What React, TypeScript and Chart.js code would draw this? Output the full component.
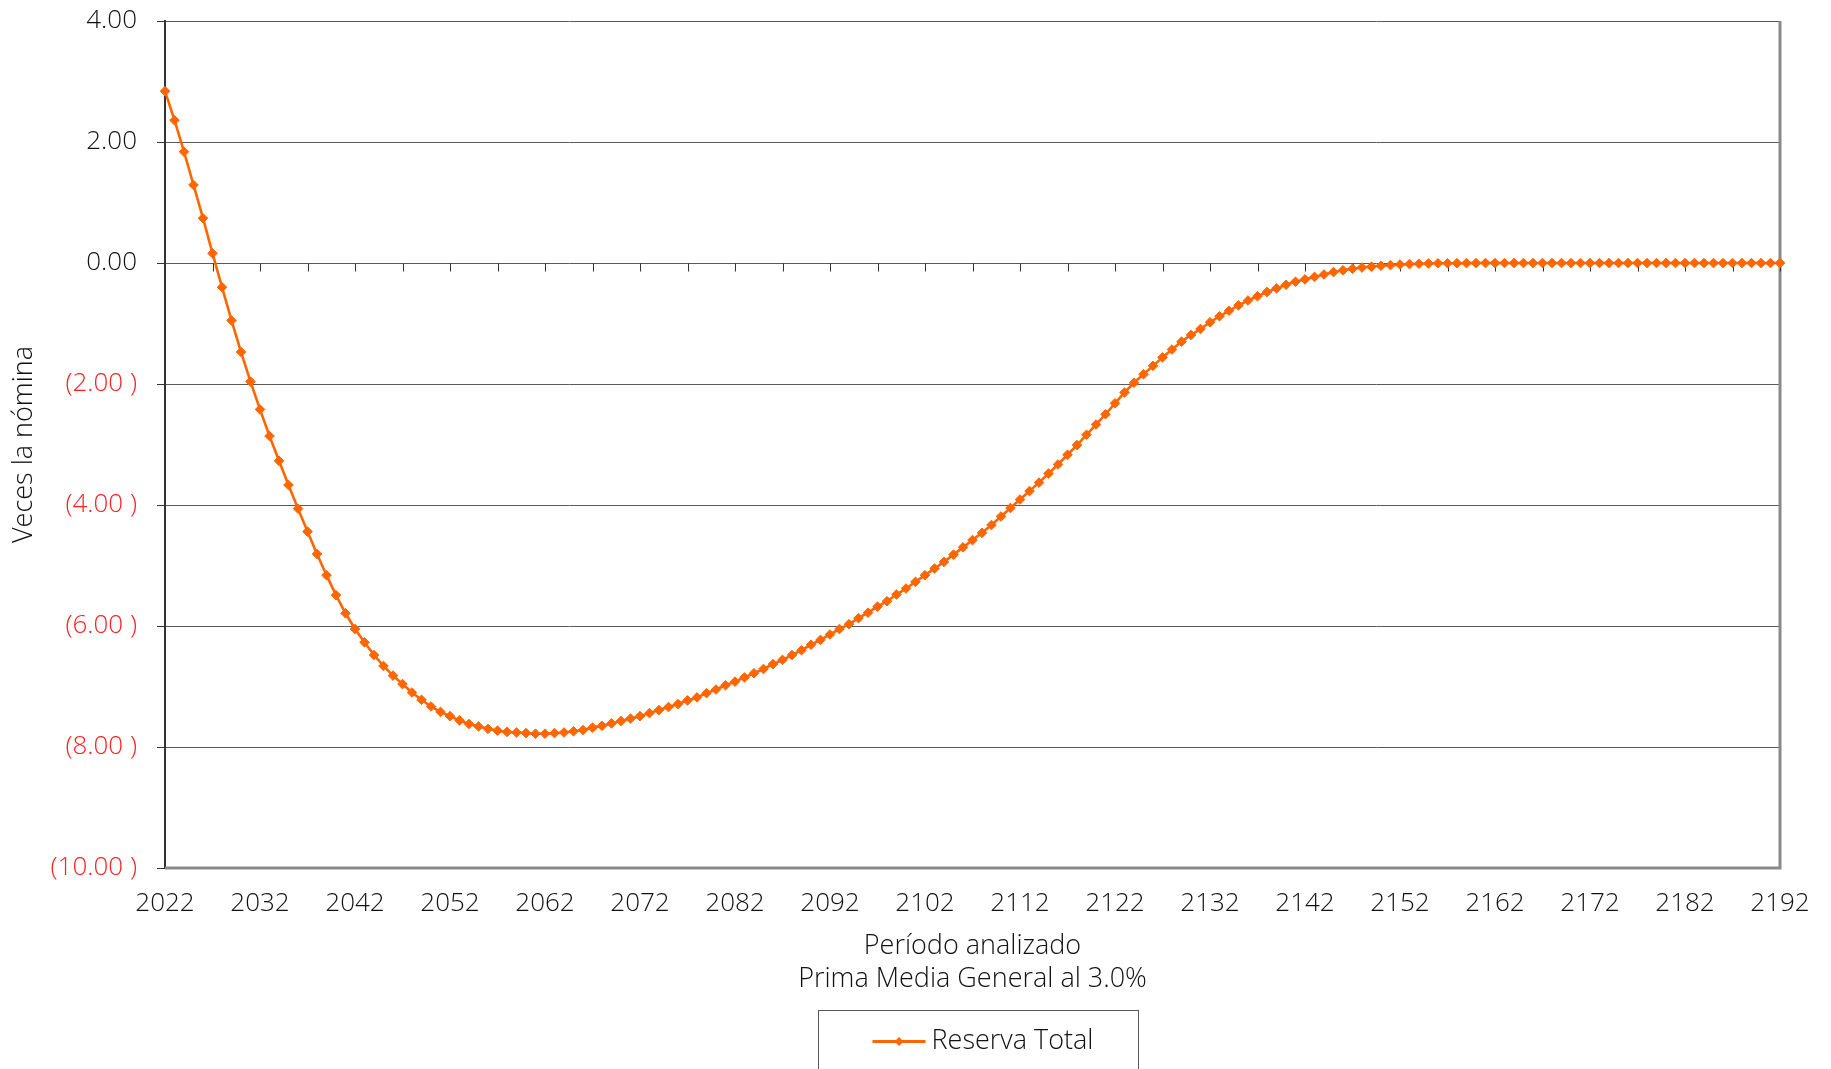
import React, { useEffect, useRef } from 'react';
import { Chart, registerables } from 'chart.js';

Chart.register(...registerables);

const YEARS = [
  2022, 2023, 2024, 2025, 2026, 2027, 2028, 2029, 2030, 2031,
  2032, 2033, 2034, 2035, 2036, 2037, 2038, 2039, 2040, 2041,
  2042, 2043, 2044, 2045, 2046, 2047, 2048, 2049, 2050, 2051,
  2052, 2053, 2054, 2055, 2056, 2057, 2058, 2059, 2060, 2061,
  2062, 2063, 2064, 2065, 2066, 2067, 2068, 2069, 2070, 2071,
  2072, 2073, 2074, 2075, 2076, 2077, 2078, 2079, 2080, 2081,
  2082, 2083, 2084, 2085, 2086, 2087, 2088, 2089, 2090, 2091,
  2092, 2093, 2094, 2095, 2096, 2097, 2098, 2099, 2100, 2101,
  2102, 2103, 2104, 2105, 2106, 2107, 2108, 2109, 2110, 2111,
  2112, 2113, 2114, 2115, 2116, 2117, 2118, 2119, 2120, 2121,
  2122, 2123, 2124, 2125, 2126, 2127, 2128, 2129, 2130, 2131,
  2132, 2133, 2134, 2135, 2136, 2137, 2138, 2139, 2140, 2141,
  2142, 2143, 2144, 2145, 2146, 2147, 2148, 2149, 2150, 2151,
  2152, 2153, 2154, 2155, 2156, 2157, 2158, 2159, 2160, 2161,
  2162, 2163, 2164, 2165, 2166, 2167, 2168, 2169, 2170, 2171,
  2172, 2173, 2174, 2175, 2176, 2177, 2178, 2179, 2180, 2181,
  2182, 2183, 2184, 2185, 2186, 2187, 2188, 2189, 2190, 2191,
  2192,
];

const RESERVA_TOTAL = [
  2.84, 2.36, 1.84, 1.29, 0.74, 0.16, -0.40, -0.95, -1.47, -1.96,
  -2.42, -2.86, -3.27, -3.67, -4.06, -4.44, -4.81, -5.16, -5.49, -5.79,
  -6.05, -6.27, -6.48, -6.66, -6.82, -6.96, -7.10, -7.22, -7.33, -7.42,
  -7.49, -7.56, -7.62, -7.66, -7.70, -7.73, -7.75, -7.76, -7.77, -7.78,
  -7.78, -7.77, -7.76, -7.74, -7.72, -7.68, -7.65, -7.61, -7.57, -7.53,
  -7.49, -7.44, -7.39, -7.34, -7.29, -7.23, -7.18, -7.11, -7.05, -6.98,
  -6.92, -6.85, -6.78, -6.71, -6.63, -6.56, -6.48, -6.40, -6.31, -6.23,
  -6.14, -6.05, -5.97, -5.87, -5.78, -5.68, -5.59, -5.48, -5.38, -5.27,
  -5.16, -5.05, -4.94, -4.82, -4.70, -4.58, -4.46, -4.33, -4.19, -4.05,
  -3.91, -3.77, -3.63, -3.48, -3.33, -3.17, -3.01, -2.84, -2.67, -2.50,
  -2.32, -2.14, -1.98, -1.84, -1.70, -1.56, -1.43, -1.30, -1.19, -1.09,
  -0.98, -0.88, -0.79, -0.70, -0.62, -0.55, -0.48, -0.42, -0.36, -0.31,
  -0.27, -0.23, -0.19, -0.15, -0.12, -0.095, -0.075, -0.06, -0.045, -0.035,
  -0.025, -0.018, -0.012, -0.008, -0.005, -0.004, -0.003, -0.002, -0.002, -0.001,
  -0.001, -0.001, -0.001, -0.001, -0.001, -0.001, -0.001, -0.001, -0.001, -0.001,
  -0.001, -0.001, -0.001, -0.001, -0.001, -0.001, -0.001, -0.001, -0.001, -0.001,
  -0.001, -0.001, -0.001, -0.001, -0.001, -0.001, -0.001, -0.001, -0.001, -0.001,
  -0.001,
];

const X_TICK_YEARS = [
  2022, 2032, 2042, 2052, 2062, 2072, 2082, 2092, 2102,
  2112, 2122, 2132, 2142, 2152, 2162, 2172, 2182, 2192,
];
const Y_TICKS = [-10, -8, -6, -4, -2, 0, 2, 4];

const SERIES_LABEL = 'Reserva Total';
const Y_TITLE = 'Veces la nómina';
const X_TITLE = ['Período analizado', 'Prima Media General al 3.0%'];

const FONT = "'Open Sans', 'Liberation Sans', sans-serif";
const ORANGE = '#FF6600';
const TEXT = '#111111';
const NEG_TEXT = '#ff2020';

export default function App() {
  const ref = useRef<HTMLCanvasElement>(null);

  useEffect(() => {
    if (!ref.current) return;

    const framePlugin = {
      id: 'excelFrame',
      beforeDatasetsDraw(chart: any) {
        const { ctx, chartArea, scales } = chart;
        const { left, right, top, bottom } = chartArea;
        ctx.save();
        ctx.strokeStyle = '#8a8a8a';
        ctx.lineWidth = 3;
        ctx.beginPath();
        ctx.moveTo(right, top);
        ctx.lineTo(right, bottom);
        ctx.moveTo(left, bottom);
        ctx.lineTo(right + 1.5, bottom);
        ctx.stroke();
        const y0 = Math.round(scales.y.getPixelForValue(0)) + 0.5;
        ctx.strokeStyle = '#333';
        ctx.lineWidth = 1;
        ctx.beginPath();
        for (let yr = YEARS[0]; yr <= YEARS[YEARS.length - 1]; yr += 5) {
          const x = Math.round(scales.x.getPixelForValue(yr)) + 0.5;
          ctx.moveTo(x, y0);
          ctx.lineTo(x, y0 + 8);
        }
        ctx.stroke();
        ctx.restore();
      },
      afterDraw(chart: any) {
        const { ctx, chartArea } = chart;
        const cx = (chartArea.left + chartArea.right) / 2 + 5;
        const boxW = 320;
        const boxL = Math.round(cx - boxW / 2) + 0.5;
        const boxT = 1010.5;
        ctx.save();
        ctx.strokeStyle = '#5a5a5a';
        ctx.lineWidth = 1;
        ctx.strokeRect(boxL, boxT, boxW, 120);
        const ly = 1041.5;
        const lx0 = boxL + 54;
        const lx1 = lx0 + 53;
        ctx.strokeStyle = ORANGE;
        ctx.lineWidth = 3;
        ctx.beginPath();
        ctx.moveTo(lx0, ly);
        ctx.lineTo(lx1, ly);
        ctx.stroke();
        const mx = (lx0 + lx1) / 2;
        const r = 4.5;
        ctx.fillStyle = ORANGE;
        ctx.beginPath();
        ctx.moveTo(mx, ly - r);
        ctx.lineTo(mx + r, ly);
        ctx.lineTo(mx, ly + r);
        ctx.lineTo(mx - r, ly);
        ctx.closePath();
        ctx.fill();
        ctx.fillStyle = TEXT;
        ctx.font = `300 27px ${FONT}`;
        ctx.textBaseline = 'middle';
        ctx.textAlign = 'left';
        ctx.fillText(chart.data.datasets[0].label, lx1 + 6, ly);
        ctx.restore();
      },
    };

    const chart = new Chart(ref.current, {
      type: 'line',
      data: {
        datasets: [
          {
            label: SERIES_LABEL,
            data: YEARS.map((yr, i) => ({ x: yr, y: RESERVA_TOTAL[i] })),
            borderColor: ORANGE,
            backgroundColor: ORANGE,
            borderWidth: 2.6,
            pointStyle: 'rectRot',
            pointRadius: 4.8,
            pointBorderWidth: 1,
            pointBackgroundColor: ORANGE,
            pointBorderColor: ORANGE,
            tension: 0,
            clip: false,
          },
        ],
      },
      options: {
        animation: false,
        responsive: false,
        maintainAspectRatio: false,
        devicePixelRatio: 1,
        layout: { padding: { top: 21, right: 51, bottom: 0, left: 0 } },
        plugins: {
          legend: { display: false },
          tooltip: { enabled: false },
        },
        scales: {
          x: {
            type: 'linear',
            min: YEARS[0],
            max: YEARS[YEARS.length - 1],
            afterBuildTicks: (s: any) => {
              s.ticks = X_TICK_YEARS.map((v) => ({ value: v }));
            },
            afterFit: (s: any) => {
              s.height = 201;
              s.paddingLeft = 0;
              s.paddingRight = 0;
            },
            ticks: {
              callback: (v: any) => String(v),
              autoSkip: false,
              maxRotation: 0,
              minRotation: 0,
              padding: 20,
              color: TEXT,
              font: { family: FONT, size: 26, weight: '300' },
            },
            grid: { display: false, drawTicks: false },
            border: { display: false },
            title: {
              display: true,
              text: X_TITLE,
              color: TEXT,
              font: { family: FONT, size: 27, weight: '300', lineHeight: 1.222 },
              padding: { top: 0, bottom: 73 },
            },
          },
          y: {
            type: 'linear',
            min: -10,
            max: 4,
            afterBuildTicks: (s: any) => {
              s.ticks = Y_TICKS.map((v) => ({ value: v }));
            },
            afterFit: (s: any) => {
              s.width = 165;
              s.paddingTop = 0;
              s.paddingBottom = 0;
            },
            ticks: {
              callback: (v: any) =>
                v < 0 ? `(${Math.abs(v).toFixed(2)} )` : Number(v).toFixed(2),
              color: (c: any) => (c.tick && c.tick.value < 0 ? NEG_TEXT : TEXT),
              padding: 20,
              font: { family: FONT, size: 26, weight: '300' },
            },
            grid: {
              color: '#5a5a5a',
              lineWidth: 1,
              drawTicks: true,
              tickLength: 8,
              tickColor: '#333',
            },
            border: { display: true, color: '#333', width: 2 },
            title: {
              display: true,
              text: Y_TITLE,
              color: TEXT,
              font: { family: FONT, size: 27, weight: '300', lineHeight: 1.2 },
              padding: { top: 8, bottom: 0 },
            },
          },
        },
      },
      plugins: [framePlugin],
    } as any);

    return () => chart.destroy();
  }, []);

  return (
    <div
      style={{
        position: 'fixed',
        left: 0,
        top: 0,
        width: 1831,
        height: 1069,
        background: '#fff',
      }}
    >
      <canvas ref={ref} width={1831} height={1069} style={{ display: 'block' }} />
    </div>
  );
}
